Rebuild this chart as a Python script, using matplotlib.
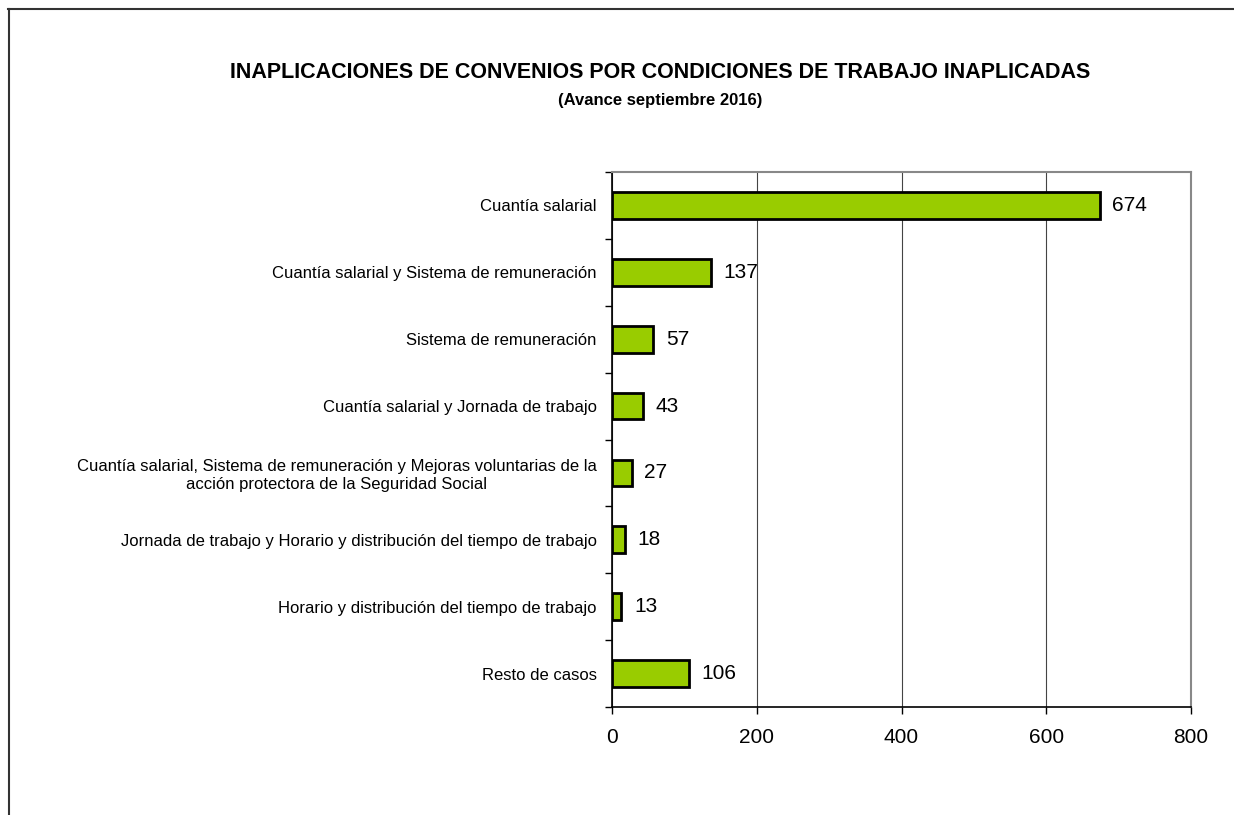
import matplotlib.pyplot as plt
import numpy as np
from matplotlib.lines import Line2D

#%% datos
categorias = [
    "Cuantía salarial",
    "Cuantía salarial y Sistema de remuneración",
    "Sistema de remuneración",
    "Cuantía salarial y Jornada de trabajo",
    "Cuantía salarial, Sistema de remuneración y Mejoras voluntarias de la\nacción protectora de la Seguridad Social",
    "Jornada de trabajo y Horario y distribución del tiempo de trabajo",
    "Horario y distribución del tiempo de trabajo",
    "Resto de casos",
]
valores = [674, 137, 57, 43, 27, 18, 13, 106]
xticks = [0, 200, 400, 600, 800]

titulo = "INAPLICACIONES DE CONVENIOS POR CONDICIONES DE TRABAJO INAPLICADAS"
subtitulo = "(Avance septiembre 2016)"

plt.rcParams['font.family'] = ['Liberation Sans Narrow', 'Liberation Sans', 'DejaVu Sans']

#%% figura
fig = plt.figure(figsize=(12.34, 8.15), dpi=100)
W, H = 1234, 815
ax = fig.add_axes([612 / W, 1 - 707 / H, (1191 - 612) / W, (707 - 172) / H])

y = np.arange(len(categorias))
ax.barh(y, valores, height=0.4, color="#99CC00", edgecolor="black", linewidth=2, zorder=3)

for yi, v in zip(y, valores):
    ax.annotate(str(v), (v, yi), xytext=(9, 0), textcoords="offset points",
                va="center", ha="left", fontsize=15)

ax.set_ylim(len(categorias) - 0.5, -0.5)
ax.set_xlim(0, 800)
ax.set_xticks(xticks)
ax.set_xticklabels([str(t) for t in xticks], fontsize=15)
ax.grid(axis="x", color="#444444", linewidth=0.8, zorder=0)

# etiquetas de categorias sin marcas, marcas entre categorias
ax.set_yticks(y)
ax.set_yticklabels(categorias, fontsize=12, multialignment="center")
ax.tick_params(axis="y", length=0, pad=11)
ax.set_yticks(np.arange(len(categorias) + 1) - 0.5, minor=True)
ax.tick_params(axis="y", which="minor", length=5, width=1, color="black")
ax.tick_params(axis="x", length=5, width=1, pad=10)

for lado in ["left", "bottom"]:
    ax.spines[lado].set_color("black")
    ax.spines[lado].set_linewidth(1.2)
for lado in ["top", "right"]:
    ax.spines[lado].set_color("#888888")
    ax.spines[lado].set_linewidth(1.5)

fig.text(660 / W, 1 - 72 / H, titulo, ha="center", va="center", fontsize=15.5, fontweight="bold")
fig.text(660 / W, 1 - 101 / H, subtitulo, ha="center", va="center", fontsize=12, fontweight="bold")

# marco
fig.add_artist(Line2D([8 / W, 1], [1 - 8.5 / H, 1 - 8.5 / H], color="#333333", linewidth=1.5))
fig.add_artist(Line2D([8.5 / W, 8.5 / W], [0, 1 - 8.5 / H], color="#333333", linewidth=1.5))

fig.savefig("out.png", dpi=100)
